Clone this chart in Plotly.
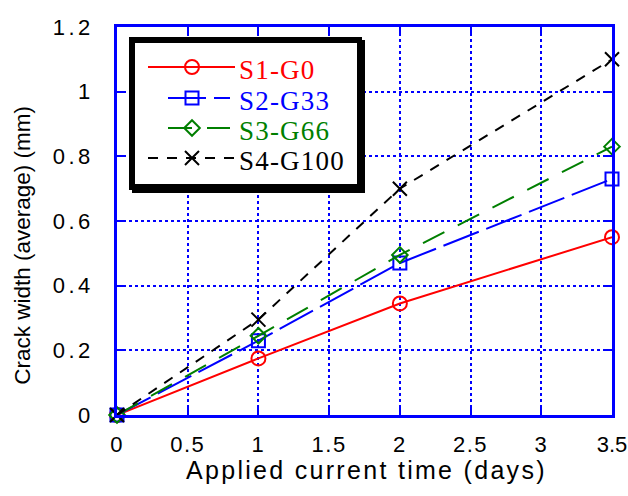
import plotly.graph_objects as go

# ---------------- data ----------------
days = [0, 1, 2, 3.5]
s1_g0 = [0, 0.175, 0.345, 0.55]
s2_g33 = [0, 0.23, 0.47, 0.73]
s3_g66 = [0, 0.245, 0.495, 0.83]
s4_g100 = [0, 0.295, 0.70, 1.10]
series_names = ["S1-G0", "S2-G33", "S3-G66", "S4-G100"]
series_values = [s1_g0, s2_g33, s3_g66, s4_g100]
x_ticks = [0, 0.5, 1, 1.5, 2, 2.5, 3, 3.5]
x_tick_labels = ["0", "0.5", "1", "1.5", "2", "2.5", "3", "3.5"]
y_ticks = [0, 0.2, 0.4, 0.6, 0.8, 1, 1.2]
y_tick_labels = ["0", "0.2", "0.4", "0.6", "0.8", "1", "1.2"]
x_title = "Applied current time (days)"
y_title = "Crack width (average) (mm)"

# ---------------- styles ----------------
styles = [
    dict(color="#FF0000", dash="solid", symbol="circle-open", size=14),
    dict(color="#0000FF", dash="38px,8px", symbol="square-open", size=13),
    dict(color="#007F00", dash="24px,15px", symbol="diamond-open", size=12),
    dict(color="#000000", dash="10px,9px", symbol="x-thin-open", size=14),
]
W, H = 628, 496
ML, MR, MT, MB = 117, 16, 27, 81
XR = [0, 3.5]
YR = [0, 1.2]
PW, PH = W - ML - MR, H - MT - MB


def px_x(X):
    return XR[0] + (X - ML) / PW * (XR[1] - XR[0])


def px_y(Y):
    return YR[0] + (H - MB - Y) / PH * (YR[1] - YR[0])


def spaced(t, ls):
    return '<span style="letter-spacing:%spx">%s</span>' % (ls, t)


# legend layout (pixel positions of the hand-drawn legend box)
leg_rows = [67, 98, 128, 158]
leg_line = [(148, 235), (168, 230), (168, 230), (148, 235)]
leg_marker_x = 192
leg_text_x = 237

fig = go.Figure()

for name, vals, st in zip(series_names, series_values, styles):
    fig.add_trace(go.Scatter(
        x=days, y=vals, name=name, mode="lines+markers",
        line=dict(color=st["color"], width=2, dash=st["dash"]),
        marker=dict(symbol=st["symbol"], size=st["size"], color=st["color"],
                    line=dict(color=st["color"], width=2)),
        cliponaxis=False, showlegend=False,
    ))

# legend box (drop shadow + border + white face)
fig.add_shape(type="rect", xref="x", yref="y", layer="between",
              x0=px_x(132), x1=px_x(365), y0=px_y(40), y1=px_y(193),
              fillcolor="black", line=dict(width=0))
fig.add_shape(type="rect", xref="x", yref="y", layer="between",
              x0=px_x(129), x1=px_x(362), y0=px_y(37), y1=px_y(190),
              fillcolor="black", line=dict(width=0))
fig.add_shape(type="rect", xref="x", yref="y", layer="between",
              x0=px_x(135), x1=px_x(357), y0=px_y(43), y1=px_y(184),
              fillcolor="white", line=dict(width=0))

for name, st, row, (lx0, lx1) in zip(series_names, styles, leg_rows, leg_line):
    fig.add_trace(go.Scatter(
        x=[px_x(lx0), px_x(lx1)], y=[px_y(row), px_y(row)], mode="lines",
        line=dict(color=st["color"], width=2, dash=st["dash"]),
        showlegend=False, hoverinfo="skip",
    ))
    fig.add_trace(go.Scatter(
        x=[px_x(leg_marker_x)], y=[px_y(row)], mode="markers",
        marker=dict(symbol=st["symbol"], size=st["size"], color=st["color"],
                    line=dict(color=st["color"], width=2)),
        showlegend=False, hoverinfo="skip",
    ))
    fig.add_annotation(x=px_x(leg_text_x), y=px_y(row + 3), text=spaced(name, 1.2),
                       xref="x", yref="y", xanchor="left", yanchor="middle",
                       showarrow=False,
                       font=dict(family="Liberation Serif", size=27, color=st["color"]))

# axis titles
fig.add_annotation(x=0.504, y=0, xref="paper", yref="paper", yshift=-55,
                   xanchor="center", yanchor="middle", showarrow=False,
                   text=spaced(x_title, 2.3),
                   font=dict(family="Liberation Sans", size=25, color="black"))
fig.add_annotation(x=0, y=0.436, xref="paper", yref="paper", xshift=-94,
                   xanchor="center", yanchor="middle", showarrow=False,
                   textangle=-90, text=y_title,
                   font=dict(family="Liberation Sans", size=22.5, color="black"))

axis_common = dict(
    showline=True, linecolor="#0000FF", linewidth=2.5, mirror="ticks",
    ticks="inside", ticklen=9, tickwidth=2, tickcolor="#0000FF",
    showgrid=True, gridcolor="#0000FF", gridwidth=2, griddash="dot",
    zeroline=False, tickfont=dict(family="Liberation Sans", size=22, color="black"),
    fixedrange=True, automargin=False,
)
x_text = [spaced(t, 1.5) for t in x_tick_labels[:-1]] + [x_tick_labels[-1]]
fig.update_xaxes(range=XR, tickvals=x_ticks, ticktext=x_text,
                 ticklabelstandoff=8, ticklabeloverflow="allow", **axis_common)
fig.update_yaxes(range=YR, tickvals=y_ticks,
                 ticktext=[spaced(t, 3.5) for t in y_tick_labels],
                 ticklabelstandoff=16, **axis_common)

fig.update_layout(
    width=W, height=H, margin=dict(l=ML, r=MR, t=MT, b=MB, autoexpand=False),
    plot_bgcolor="white", paper_bgcolor="white", showlegend=False,
)

fig.write_html("out.html", config={"displayModeBar": False},
               post_script="document.body.style.margin='0';document.body.style.overflow='hidden';")
